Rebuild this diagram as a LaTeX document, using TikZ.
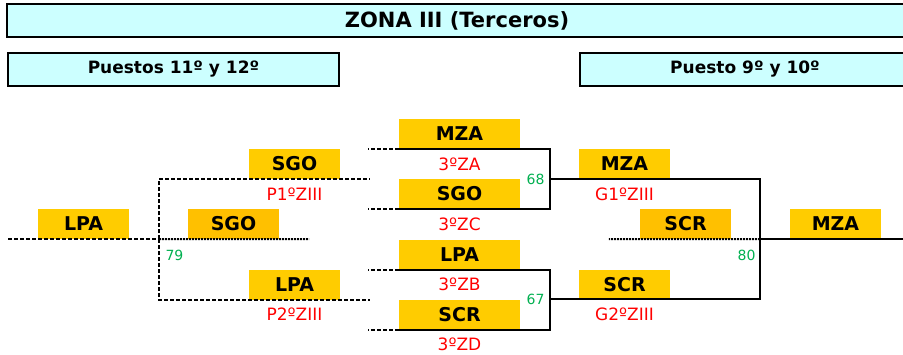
\documentclass[tikz,border=0pt]{standalone}
\usepackage{fontspec}
\setmainfont{DejaVu Sans}
\usetikzlibrary{positioning}
\definecolor{gold}{HTML}{FFCC00}
\definecolor{darkgold}{HTML}{FFC000}
\definecolor{paleblue}{HTML}{CCFFFF}
\definecolor{seedred}{HTML}{FF0000}
\definecolor{gamegreen}{HTML}{00B050}
\tikzstyle{team}=[fill=gold, minimum width=91pt, minimum height=30pt, inner sep=0pt, font=\fontsize{19}{22}\selectfont\bfseries]
\tikzstyle{wide}=[team, minimum width=121pt]
\tikzstyle{seed}=[text=seedred, inner sep=0pt, font=\fontsize{17}{20}\selectfont]
\tikzstyle{game}=[text=gamegreen, inner sep=0pt, font=\fontsize{14}{16}\selectfont]
\tikzstyle{head}=[draw, line width=2pt, fill=paleblue, inner sep=0pt, minimum height=33pt, font=\fontsize{17}{20}\selectfont\bfseries]
\tikzstyle{win}=[line width=2pt]
\tikzstyle{tbd}=[line width=2pt, dash pattern=on 4pt off 2pt]
\tikzstyle{lose}=[line width=2pt, dash pattern=on 2pt off 1pt]

\begin{document}
\begin{tikzpicture}[x=1pt, y=-1pt]
    \useasboundingbox (0,0) rectangle (903,354);
    \fill [white] (0,0) rectangle (903,354);
    % headings
    \node (title) [head, minimum width=900pt, font=\fontsize{21}{24}\selectfont\bfseries] at (457,20.5) {ZONA III (Terceros)};
    \node (low)   [head, minimum width=331pt] at (173.5,69) {Puestos 11º y 12º};
    \node (high)  [head, minimum width=330pt] at (745,69)   {Puesto 9º y 10º};
    % teams
    \node (lpa)  [team]                 at (83.5,224)    {LPA};
    \node (sgo)  [team, fill=darkgold]  at (233.5,224)   {SGO};
    \node (sgoP) [team]                 at (294.5,164)   {SGO};
    \node (lpaP) [team]                 at (294.5,284.5) {LPA};
    \node (za)   [wide]                 at (459.5,134)   {MZA};
    \node (zc)   [wide]                 at (459.5,194)   {SGO};
    \node (zb)   [wide]                 at (459.5,254.5) {LPA};
    \node (zd)   [wide]                 at (459.5,314.5) {SCR};
    \node (mzaG) [team]                 at (624.5,164)   {MZA};
    \node (scr)  [team, fill=darkgold]  at (685.5,224)   {SCR};
    \node (scrG) [team]                 at (624.5,284.5) {SCR};
    \node (mza)  [team]                 at (835.5,224)   {MZA};
    % seeds
    \node (p1) [seed, node distance=30pt, below of=sgoP] {P1ºZIII};
    \node (p2) [seed, node distance=30pt, below of=lpaP] {P2ºZIII};
    \node (a3) [seed, node distance=30pt, below of=za]   {3ºZA};
    \node (c3) [seed, node distance=30pt, below of=zc]   {3ºZC};
    \node (b3) [seed, node distance=30pt, below of=zb]   {3ºZB};
    \node (d3) [seed, node distance=30pt, below of=zd]   {3ºZD};
    \node (g1) [seed, node distance=30pt, below of=mzaG] {G1ºZIII};
    \node (g2) [seed, node distance=30pt, below of=scrG] {G2ºZIII};
    % game numbers
    \node (n79) [game] at (174.5,255) {79};
    \node (n68) [game] at (535.5,179) {68};
    \node (n67) [game] at (535.5,299) {67};
    \node (n80) [game] at (746.5,255) {80};
    % bracket joints
    \coordinate (j79) at (159,239);
    \coordinate (j68) at (550,179);
    \coordinate (j67) at (550,299);
    \coordinate (j80) at (760,239);
    \coordinate (endL) at (8,239);
    \coordinate (endR) at (903,239);
    % left side
    \draw [tbd]  (endL) -- (j79);
    \draw [tbd]  (j79) |- (sgoP.south east) -- ++(30,0);
    \draw [tbd]  (j79) |- (lpaP.south east) -- ++(30,0);
    \draw [lose] (j79) -- (sgo.south east) -- ++(30,0);
    % middle
    \draw [win] (za.south west) -| (j68) |- (zc.south west);
    \draw [win] (zb.south west) -| (j67) |- (zd.south west);
    \draw [tbd] (za.south west) -- ++(-31,0);
    \draw [tbd] (zc.south west) -- ++(-31,0);
    \draw [tbd] (zb.south west) -- ++(-31,0);
    \draw [tbd] (zd.south west) -- ++(-31,0);
    % right side
    \draw [win]  (j68) -| (j80) |- (j67);
    \draw [lose] (j80) -- (scr.south west) -- ++(-31,0);
    \draw [win]  (j80) -- (endR);
\end{tikzpicture}
\end{document}
